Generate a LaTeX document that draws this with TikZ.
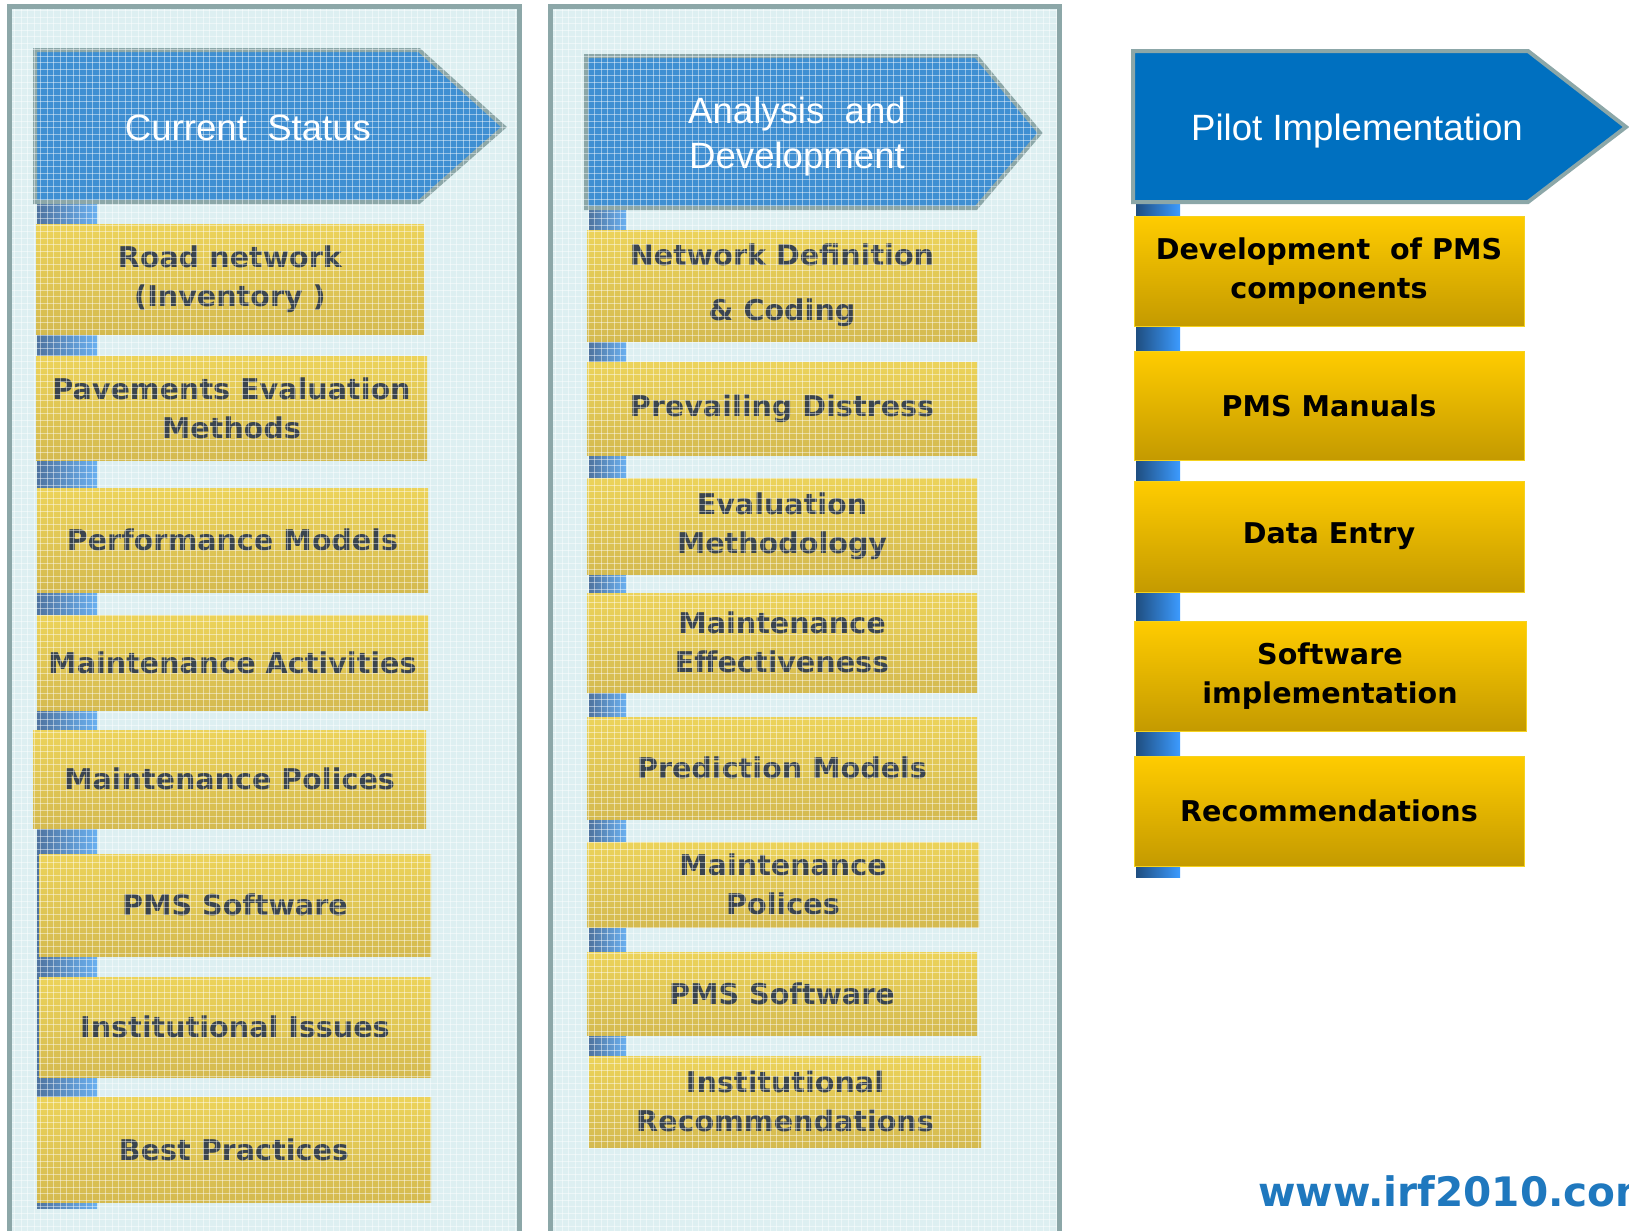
\documentclass[tikz,border=0pt]{standalone}
\usepackage{fontspec}
\setmainfont{DejaVu Sans}
\newfontfamily\hdfont{Liberation Sans}
\definecolor{panelfill}{HTML}{DDEFF1}
\definecolor{panelline}{HTML}{8CA7A8}
\definecolor{hdblue}{HTML}{3F8FD2}
\definecolor{pilotblue}{HTML}{0070C0}
\definecolor{ytop}{HTML}{ECD35A}
\definecolor{ybot}{HTML}{D4BA50}
\definecolor{ltext}{HTML}{3A444E}
\definecolor{gtop}{HTML}{FFCC00}
\definecolor{gbot}{HTML}{C49A00}
\definecolor{gedge}{HTML}{F5D21E}
\definecolor{urlblue}{HTML}{1F78BE}
\definecolor{stubdark}{HTML}{4F74A0}
\definecolor{stublight}{HTML}{6AB0F0}
\definecolor{pstubdark}{HTML}{1F4E80}
\definecolor{pstublight}{HTML}{3C9BFF}
\tikzset{
  boxbase/.style={rectangle, inner sep=0pt, align=center,
    font=\bfseries\fontsize{14.3}{19.5}\selectfont},
  lbox/.style={boxbase, top color=ytop, bottom color=ybot, text=ltext},
  rbox/.style={boxbase, top color=gtop, middle color=gtop!80!gbot, bottom color=gbot,
    draw=gedge, line width=0.5pt, text=black},
  hdarrow/.style={fill=hdblue, draw=panelline, line width=2pt, line join=miter},
  pilotarrow/.style={fill=pilotblue, draw=panelline, line width=2pt, line join=miter},
  hdtext/.style={text=white, align=center, inner sep=0pt,
    font=\hdfont\fontsize{18.3}{22.5}\selectfont},
  gridline/.style={white, opacity=0.45, line width=0.5pt},
  panelborder/.style={draw=panelline, line width=2.5pt},
}
% \bx{name}{style}{x1}{y1}{x2}{y2}{text}
\newcommand\bx[7]{%
  \node[#2, minimum width={(#5-#3)*0.5pt}, minimum height={(#6-#4)*0.5pt}]
    (#1) at ({(#3+#5)/2},{(#4+#6)/2}) {#7};}
\begin{document}
\begin{tikzpicture}[x=0.5pt,y=-0.5pt]
\useasboundingbox (0,0) rectangle (1629,1231);
\fill[white] (0,0) rectangle (1629,1231);
% panels
\fill[panelfill] (8,4) rectangle (521,1240);
\fill[panelfill] (549,4) rectangle (1061,1240);
% stub bars
\fill[left color=stubdark, right color=stublight] (37,200) rectangle (97,1208);
\fill[left color=stubdark, right color=stublight] (589,206) rectangle (626,1058);
\fill[left color=pstubdark, right color=pstublight] (1136,200) rectangle (1180,877);
% header arrows
\draw[hdarrow] (35,50) -- (419,50) -- (504,127) -- (419,202) -- (35,202) -- cycle;
\node[hdtext] (hd1) at (248,128) {Current~~Status};
\draw[hdarrow] (586,56) -- (976,56) -- (1040,133) -- (976,208) -- (586,208) -- cycle;
\node[hdtext] (hd2) at (797,137) {Analysis~~and\\Development};
\draw[pilotarrow] (1133,51) -- (1528,51) -- (1626,127) -- (1528,202) -- (1133,202) -- cycle;
\node[hdtext] (hd3) at (1357,131) {Pilot Implementation};
% left column
\bx{l1}{lbox}{36}{224}{424}{334}{Road network\\(Inventory )}
\bx{l2}{lbox}{36}{356}{427}{460}{Pavements Evaluation\\Methods}
\bx{l3}{lbox}{37}{488}{428}{592}{Performance Models}
\bx{l4}{lbox}{37}{615}{428}{710}{Maintenance Activities}
\bx{l5}{lbox}{33}{730}{426}{828}{Maintenance Polices}
\bx{l6}{lbox}{39}{854}{431}{956}{PMS Software}
\bx{l7}{lbox}{39}{977}{431}{1077}{Institutional Issues}
\bx{l8}{lbox}{37}{1097}{431}{1202}{Best Practices}
% middle column
\bx{m1}{lbox}{587}{230}{977}{341}{Network Definition\\[8pt]\& Coding}
\bx{m2}{lbox}{587}{362}{977}{455}{Prevailing Distress}
\bx{m3}{lbox}{587}{478}{977}{574}{Evaluation\\Methodology}
\bx{m4}{lbox}{587}{593}{977}{692}{Maintenance\\Effectiveness}
\bx{m5}{lbox}{587}{717}{977}{819}{Prediction Models}
\bx{m6}{lbox}{587}{842}{979}{927}{Maintenance\\Polices}
\bx{m7}{lbox}{587}{952}{977}{1035}{PMS Software}
\bx{m8}{lbox}{589}{1056}{981}{1147}{Institutional\\Recommendations}
% grid overlays
\begin{scope}
  \clip (8,4) rectangle (521,1231);
  \foreach \gx in {8,14.5,...,521} \draw[gridline] (\gx,4) -- (\gx,1231);
  \foreach \gy in {4,10.5,...,1231} \draw[gridline] (8,\gy) -- (521,\gy);
\end{scope}
\begin{scope}
  \clip (549,4) rectangle (1061,1231);
  \foreach \gx in {549,555.5,...,1061} \draw[gridline] (\gx,4) -- (\gx,1231);
  \foreach \gy in {4,10.5,...,1231} \draw[gridline] (549,\gy) -- (1061,\gy);
\end{scope}
% panel borders
\draw[panelborder] (9.5,1240) -- (9.5,6.5) -- (519.5,6.5) -- (519.5,1240);
\draw[panelborder] (550.5,1240) -- (550.5,6.5) -- (1059.5,6.5) -- (1059.5,1240);
% right column
\bx{r1}{rbox}{1134}{216}{1524}{326}{Development~~of PMS\\components}
\bx{r2}{rbox}{1134}{351}{1524}{460}{PMS Manuals}
\bx{r3}{rbox}{1134}{481}{1524}{592}{Data Entry}
\bx{r4}{rbox}{1134}{621}{1526}{731}{Software\\implementation}
\bx{r5}{rbox}{1134}{756}{1524}{866}{Recommendations}
% url (cut off at the right edge, as in the original)
\node[anchor=base west, inner sep=0pt, text=urlblue,
  font=\bfseries\fontsize{20.3}{24}\selectfont] (url) at (1258,1206) {www.irf2010.com};
\end{tikzpicture}
\end{document}
